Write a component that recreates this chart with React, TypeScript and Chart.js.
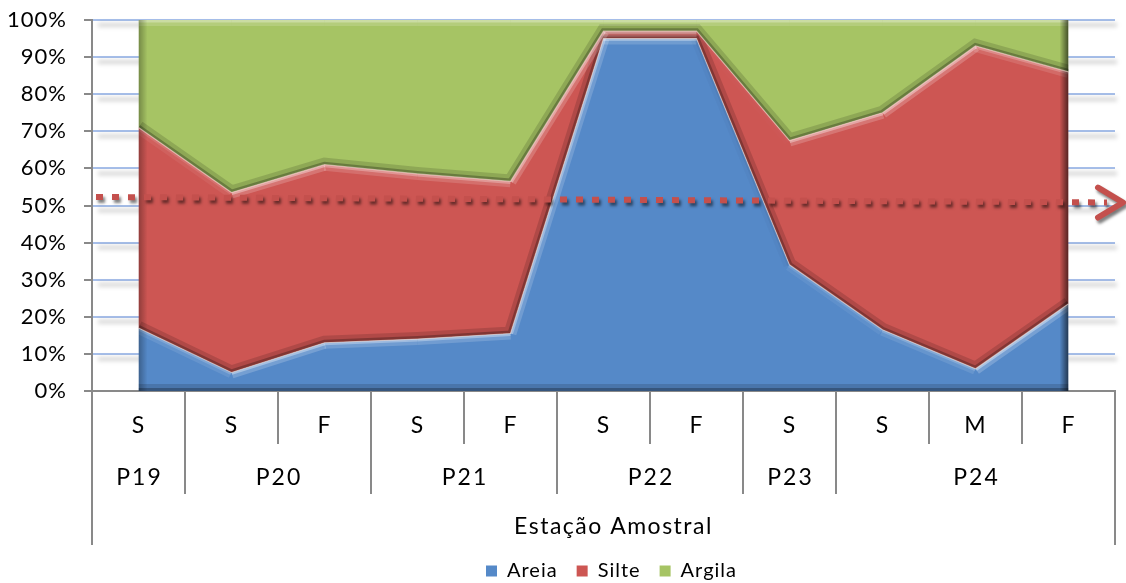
import React, { useEffect, useRef } from 'react';
import { Chart, registerables } from 'chart.js';

Chart.register(...registerables);

// ---- data ----
const categories = ['S', 'S', 'F', 'S', 'F', 'S', 'F', 'S', 'S', 'M', 'F'];
const groupNames = ['P19', 'P20', 'P21', 'P22', 'P23', 'P24'];
const groupSizes = [1, 2, 2, 2, 1, 3];
const areia = [17, 5, 13, 14, 15.5, 95, 95, 34, 16.5, 6, 23.5];
const silte = [54, 48.5, 48, 44.5, 41, 2, 2, 33.5, 58.5, 87, 62.5];
const argila = [29, 46.5, 39, 41.5, 43.5, 3, 3, 32.5, 25, 7, 14];
const seriesNames = ['Areia', 'Silte', 'Argila'];
const axisTitle = 'Estação Amostral';
const refLine = [52.3, 50.8]; // dotted reference line (start %, end %)

const FONT = 'Lato, "Open Sans", sans-serif';
const AXIS_GRAY = '#898989';

function strokePoly(ctx: CanvasRenderingContext2D, pts: { x: number; y: number }[], color: string, w: number) {
  ctx.beginPath();
  pts.forEach((p, j) => (j ? ctx.lineTo(p.x, p.y) : ctx.moveTo(p.x, p.y)));
  ctx.strokeStyle = color;
  ctx.lineWidth = w;
  ctx.stroke();
}

const decorPlugin = {
  id: 'decor',
  beforeDraw(chart: any) {
    (chart.ctx as any).letterSpacing = '1px';
  },
  beforeDatasetsDraw(chart: any) {
    const ctx = chart.ctx as CanvasRenderingContext2D;
    const ys = chart.scales.y;
    const { left, right } = chart.chartArea;
    ctx.save();
    ctx.filter = 'blur(2px)';
    ctx.strokeStyle = 'rgba(0,0,0,0.16)';
    ctx.lineWidth = 4;
    ys.ticks.forEach((t: any) => {
      if (t.value === 0) return;
      const y = ys.getPixelForValue(t.value) + 5;
      ctx.beginPath();
      ctx.moveTo(left + 6, y);
      ctx.lineTo(right + 2, y);
      ctx.stroke();
    });
    ctx.restore();
  },
  afterDatasetsDraw(chart: any) {
    const ctx = chart.ctx as CanvasRenderingContext2D;
    const ys = chart.scales.y;
    const base = ys.getPixelForValue(0);
    const metas = [0, 1, 2].map((i) =>
      chart.getDatasetMeta(i).data.map((p: any) => ({ x: p.x, y: p.y }))
    );
    const L = { x: -0.6, y: -0.8 };
    for (let i = 0; i < 3; i++) {
      const topPts = metas[i];
      const botPts = i === 0 ? topPts.map((p: any) => ({ x: p.x, y: base })) : metas[i - 1];
      const x0 = topPts[0].x;
      const xN = topPts[topPts.length - 1].x;
      ctx.save();
      ctx.beginPath();
      topPts.forEach((p: any, j: number) => (j ? ctx.lineTo(p.x, p.y) : ctx.moveTo(p.x, p.y)));
      for (let j = botPts.length - 1; j >= 0; j--) ctx.lineTo(botPts[j].x, botPts[j].y);
      ctx.closePath();
      ctx.clip();
      ctx.lineCap = 'butt';
      ctx.lineJoin = 'miter';
      // bottom edge: shadow
      strokePoly(ctx, botPts, 'rgba(0,0,0,0.14)', 14);
      strokePoly(ctx, botPts, 'rgba(0,0,0,0.26)', 6);
      // top edge: lit according to slope
      for (let j = 0; j < topPts.length - 1; j++) {
        const a = topPts[j];
        const b = topPts[j + 1];
        const dx = b.x - a.x;
        const dy = b.y - a.y;
        const len = Math.hypot(dx, dy) || 1;
        const nx = dy / len;
        const ny = -dx / len;
        const k = nx * L.x + ny * L.y;
        const col = (f: number) =>
          k > 0 ? `rgba(255,255,255,${(0.5 * k * f).toFixed(3)})` : `rgba(0,0,0,${(0.25 * -k * f).toFixed(3)})`;
        ctx.beginPath();
        ctx.moveTo(a.x, a.y);
        ctx.lineTo(b.x, b.y);
        ctx.strokeStyle = col(0.4);
        ctx.lineWidth = 12;
        ctx.stroke();
        ctx.strokeStyle = col(0.75);
        ctx.lineWidth = 5;
        ctx.stroke();
      }
      // left edge
      let g = ctx.createLinearGradient(x0, 0, x0 + 9, 0);
      g.addColorStop(0, 'rgba(0,0,0,0.3)');
      g.addColorStop(1, 'rgba(0,0,0,0)');
      ctx.fillStyle = g;
      ctx.fillRect(x0, 0, 9, chart.height);
      // right edge
      g = ctx.createLinearGradient(xN - 9, 0, xN, 0);
      g.addColorStop(0, 'rgba(0,0,0,0)');
      g.addColorStop(1, 'rgba(0,0,0,0.6)');
      ctx.fillStyle = g;
      ctx.fillRect(xN - 9, 0, 9, chart.height);
      ctx.restore();
    }
    // thin light seams between areas
    ctx.save();
    for (let i = 0; i < 2; i++) strokePoly(ctx, metas[i], 'rgba(255,225,215,0.55)', 1.2);
    ctx.restore();
  },
  afterDraw(chart: any) {
    const ctx = chart.ctx as CanvasRenderingContext2D;
    const xs = chart.scales.x;
    const ys = chart.scales.y;
    const { left, right, bottom } = chart.chartArea;
    ctx.save();
    ctx.strokeStyle = AXIS_GRAY;
    ctx.lineWidth = 2;
    const vline = (x: number, y1: number, y2: number) => {
      ctx.beginPath();
      ctx.moveTo(x, y1);
      ctx.lineTo(x, y2);
      ctx.stroke();
    };
    vline(left, bottom, bottom + 154);
    vline(right, bottom, bottom + 154);
    ctx.fillStyle = '#000';
    ctx.font = `23px ${FONT}`;
    ctx.textAlign = 'center';
    ctx.textBaseline = 'middle';
    (ctx as any).letterSpacing = '2px';
    let idx = 0;
    groupSizes.forEach((size, gi) => {
      const start = idx;
      for (let k = 1; k < size; k++) {
        const b = (xs.getPixelForValue(start + k - 1) + xs.getPixelForValue(start + k)) / 2;
        vline(b, bottom, bottom + 53);
      }
      idx += size;
      if (idx < categories.length) {
        const b = (xs.getPixelForValue(idx - 1) + xs.getPixelForValue(idx)) / 2;
        vline(b, bottom, bottom + 103);
      }
      const c = (xs.getPixelForValue(start) + xs.getPixelForValue(idx - 1)) / 2;
      ctx.fillText(groupNames[gi], c + 1, bottom + 87);
    });
    (ctx as any).letterSpacing = '1.5px';
    ctx.fillText(axisTitle, (left + right) / 2 + 10, bottom + 136);
    ctx.restore();

    // dotted reference line with arrow
    const yA = ys.getPixelForValue(refLine[0]);
    const yB = ys.getPixelForValue(refLine[1]);
    const xA = left + 4;
    const xTip = right + 8;
    const xEnd = xTip - 16;
    const yEnd = yA + ((yB - yA) * (xEnd - xA)) / (xTip - xA);
    ctx.save();
    ctx.shadowColor = 'rgba(0,0,0,0.5)';
    ctx.shadowOffsetX = 2;
    ctx.shadowOffsetY = 3;
    ctx.shadowBlur = 3;
    ctx.strokeStyle = '#c4504d';
    ctx.lineWidth = 6;
    ctx.setLineDash([7, 9]);
    ctx.lineCap = 'butt';
    ctx.beginPath();
    ctx.moveTo(xA, yA);
    ctx.lineTo(xEnd, yEnd);
    ctx.stroke();
    ctx.setLineDash([]);
    ctx.lineCap = 'round';
    ctx.lineJoin = 'round';
    ctx.beginPath();
    ctx.moveTo(xTip - 25, yB - 15);
    ctx.lineTo(xTip, yB);
    ctx.lineTo(xTip - 25, yB + 15);
    ctx.stroke();
    ctx.restore();
    (ctx as any).letterSpacing = '0px';
  },
};

export default function App() {
  const ref = useRef<HTMLCanvasElement>(null);
  useEffect(() => {
    if (!ref.current) return;
    Chart.defaults.font.family = FONT;
    Chart.defaults.color = '#000';
    const colors = ['#5589c8', '#cd5653', '#a6c464'];
    const values = [areia, silte, argila];
    const chart = new Chart(ref.current, {
      type: 'line',
      data: {
        labels: categories,
        datasets: values.map((v, i) => ({
          label: seriesNames[i],
          data: v,
          backgroundColor: colors[i],
          borderColor: colors[i],
          borderWidth: 0,
          pointRadius: 0,
          fill: i === 0 ? 'origin' : '-1',
          tension: 0,
        })),
      },
      options: {
        animation: false,
        responsive: true,
        maintainAspectRatio: false,
        layout: { padding: { top: 20, right: 11, left: 0, bottom: -8 } },
        plugins: {
          tooltip: { enabled: false },
          legend: {
            position: 'bottom',
            fullSize: false,
            labels: {
              boxWidth: 11,
              boxHeight: 11,
              padding: 19,
              font: { size: 20, family: FONT },
              color: '#000',
            },
          },
        },
        scales: {
          x: {
            offset: true,
            grid: { drawOnChartArea: false, drawTicks: false },
            border: { display: true, color: AXIS_GRAY, width: 2 },
            ticks: { padding: 21, font: { size: 23 }, color: '#000', maxRotation: 0, autoSkip: false },
            afterFit: (s: any) => {
              s.height = 151;
            },
          },
          y: {
            stacked: true,
            min: 0,
            max: 100,
            ticks: { stepSize: 10, padding: 17, font: { size: 22 }, color: '#000', callback: (v: any) => `${v}%` },
            grid: { color: '#a7bfea', lineWidth: 2, drawTicks: true, tickLength: 8, tickColor: AXIS_GRAY, tickWidth: 2 },
            border: { display: true, color: AXIS_GRAY, width: 2 },
            afterFit: (s: any) => {
              s.width = 92;
              s.paddingTop = 0;
              s.paddingBottom = 0;
            },
          },
        },
      },
      plugins: [decorPlugin],
    });
    return () => chart.destroy();
  }, []);
  return (
    <div style={{ position: 'fixed', left: 0, top: 0, width: 1126, height: 583, background: '#fff' }}>
      <canvas ref={ref} />
    </div>
  );
}
